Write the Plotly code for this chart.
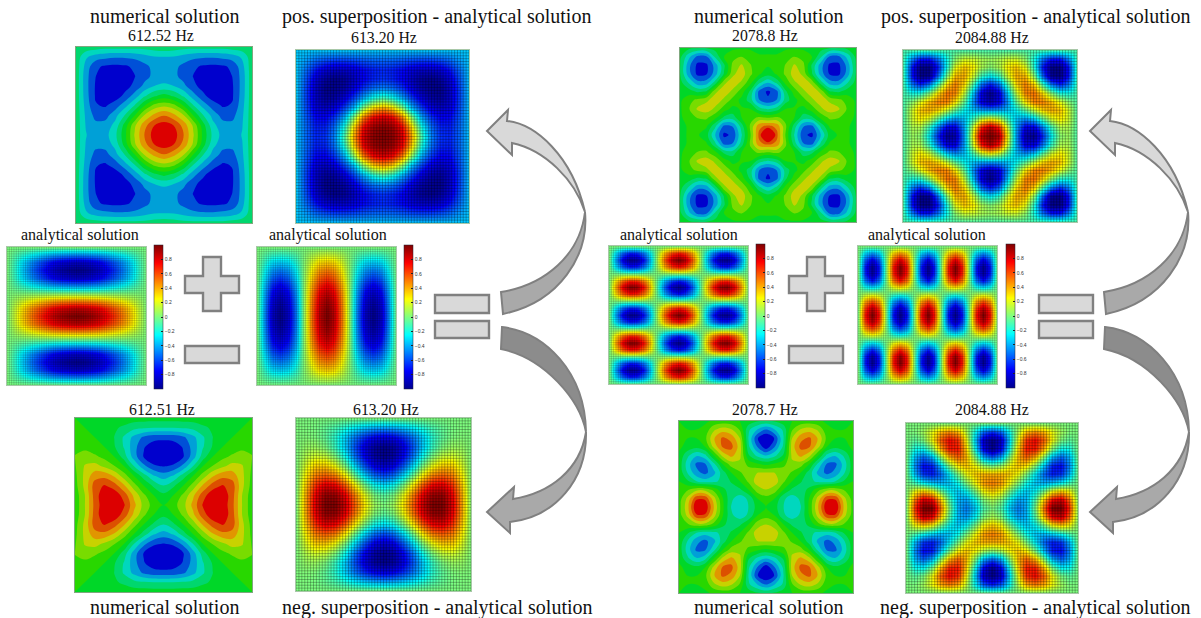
import numpy as np
import plotly.graph_objects as go

W, H = 1201, 618

# ---------- values: upper-left quarter of each field, row 0 = top edge ----------
ana_low_h = [
 [0,0,0,0,0,0,0,0,0,0],
 [0,-.09,-.17,-.25,-.32,-.39,-.44,-.47,-.49,-.5],
 [0,-.15,-.30,-.44,-.56,-.67,-.76,-.82,-.85,-.87],
 [0,-.17,-.34,-.5,-.64,-.77,-.87,-.94,-.98,-1],
 [0,-.15,-.30,-.44,-.56,-.67,-.76,-.82,-.85,-.87],
 [0,-.09,-.17,-.25,-.32,-.39,-.44,-.47,-.49,-.5],
 [0,0,0,0,0,0,0,0,0,0],
 [0,.09,.17,.25,.32,.39,.44,.47,.49,.5],
 [0,.15,.30,.44,.56,.67,.76,.82,.85,.87],
 [0,.17,.34,.5,.64,.77,.87,.94,.98,1],
]
ana_low_v = [
 [0,0,0,0,0,0,0,0,0,0],
 [0,-.09,-.15,-.17,-.15,-.09,0,.09,.15,.17],
 [0,-.17,-.30,-.34,-.30,-.17,0,.17,.30,.34],
 [0,-.25,-.44,-.5,-.44,-.25,0,.25,.44,.5],
 [0,-.32,-.56,-.64,-.56,-.32,0,.32,.56,.64],
 [0,-.39,-.67,-.77,-.67,-.39,0,.39,.67,.77],
 [0,-.44,-.76,-.87,-.76,-.44,0,.44,.76,.87],
 [0,-.47,-.82,-.94,-.82,-.47,0,.47,.82,.94],
 [0,-.49,-.85,-.98,-.85,-.49,0,.49,.85,.98],
 [0,-.5,-.87,-1,-.87,-.5,0,.5,.87,1],
]
pos_low = [
 [-.35]*10,
 [-.35,-.45,-.54,-.60,-.63,-.63,-.61,-.58,-.55,-.55],
 [-.35,-.54,-.70,-.82,-.86,-.85,-.81,-.74,-.69,-.67],
 [-.35,-.60,-.82,-.95,-1,-.96,-.87,-.76,-.68,-.65],
 [-.35,-.63,-.86,-1,-1,-.94,-.81,-.65,-.53,-.49],
 [-.35,-.63,-.85,-.96,-.94,-.81,-.61,-.40,-.19,-.10],
 [-.35,-.61,-.81,-.87,-.81,-.61,-.35,.05,.34,.44],
 [-.35,-.58,-.74,-.76,-.65,-.40,.05,.50,.75,.82],
 [-.35,-.55,-.69,-.68,-.53,-.19,.34,.75,.93,.97],
 [-.35,-.55,-.67,-.65,-.49,-.10,.44,.82,.97,1],
]
neg_low = [
 [0]*10,
 [0,0,-.01,-.05,-.11,-.20,-.29,-.37,-.43,-.45],
 [0,.01,0,-.06,-.17,-.34,-.51,-.66,-.77,-.81],
 [0,.05,.06,0,-.14,-.35,-.58,-.80,-.95,-1],
 [0,.11,.17,.14,0,-.23,-.51,-.76,-.94,-1],
 [0,.20,.34,.35,.23,0,-.29,-.57,-.78,-.85],
 [0,.29,.51,.58,.51,.29,0,-.29,-.51,-.58],
 [0,.37,.66,.80,.76,.57,.29,0,-.22,-.29],
 [0,.43,.77,.95,.94,.78,.51,.22,0,-.07],
 [0,.45,.81,1,1,.85,.58,.29,.07,0],
]
num_pos_low = [
 [-.16,-.22,-.24,-.27,-.27,-.27,-.27,-.27,-.24,-.22],
 [-.22,-.47,-.58,-.62,-.64,-.64,-.62,-.56,-.51,-.5],
 [-.22,-.56,-.8,-.86,-.88,-.86,-.8,-.72,-.61,-.59],
 [-.22,-.6,-.83,-.92,-.95,-.92,-.84,-.73,-.62,-.6],
 [-.22,-.6,-.85,-.95,-.96,-.9,-.79,-.62,-.5,-.46],
 [-.22,-.59,-.85,-.95,-.92,-.79,-.59,-.36,-.19,-.1],
 [-.22,-.56,-.82,-.85,-.75,-.56,-.32,0,.23,.3],
 [-.22,-.53,-.72,-.73,-.56,-.32,0,.35,.55,.66],
 [-.22,-.51,-.62,-.6,-.45,-.1,.3,.6,.83,.92],
 [-.22,-.49,-.59,-.56,-.38,-.05,.35,.67,.92,1.1],
]
num_neg_low = [
 [0,-.02,-.03,-.05,-.06,-.07,-.08,-.08,-.08,-.08],
 [.02,0,-.04,-.08,-.14,-.2,-.28,-.31,-.33,-.33],
 [.1,.04,0,-.06,-.17,-.36,-.55,-.7,-.77,-.78],
 [.15,.12,.06,0,-.15,-.35,-.6,-.82,-.93,-.95],
 [.17,.25,.2,.12,0,-.25,-.58,-.85,-.97,-1],
 [.15,.35,.4,.3,.18,0,-.33,-.62,-.8,-.84],
 [.12,.38,.6,.62,.48,.25,0,-.25,-.48,-.58],
 [.1,.38,.75,.85,.75,.52,.24,0,-.2,-.33],
 [.06,.33,.74,.96,.95,.76,.46,.2,0,-.12],
 [.05,.33,.72,.95,1,.85,.55,.27,.1,0],
]
ana_high_h = [
 [0]*11,
 [0,-.32,-.57,-.70,-.67,-.50,-.22,.11,.42,.63,.71],
 [0,-.45,-.81,-.99,-.95,-.71,-.31,.16,.59,.89,1],
 [0,-.32,-.57,-.70,-.67,-.50,-.22,.11,.42,.63,.71],
 [0]*11,
 [0,.32,.57,.70,.67,.50,.22,-.11,-.42,-.63,-.71],
 [0,.45,.81,.99,.95,.71,.31,-.16,-.59,-.89,-1],
 [0,.32,.57,.70,.67,.50,.22,-.11,-.42,-.63,-.71],
 [0]*11,
 [0,-.32,-.57,-.70,-.67,-.50,-.22,.11,.42,.63,.71],
 [0,-.45,-.81,-.99,-.95,-.71,-.31,.16,.59,.89,1],
]
ana_high_v = [
 [0]*11,
 [0,-.32,-.45,-.32,0,.32,.45,.32,0,-.32,-.45],
 [0,-.57,-.81,-.57,0,.57,.81,.57,0,-.57,-.81],
 [0,-.70,-.99,-.70,0,.70,.99,.70,0,-.70,-.99],
 [0,-.67,-.95,-.67,0,.67,.95,.67,0,-.67,-.95],
 [0,-.50,-.71,-.50,0,.50,.71,.50,0,-.50,-.71],
 [0,-.22,-.31,-.22,0,.22,.31,.22,0,-.22,-.31],
 [0,.11,.16,.11,0,-.11,-.16,-.11,0,.11,.16],
 [0,.42,.59,.42,0,-.42,-.59,-.42,0,.42,.59],
 [0,.63,.89,.63,0,-.63,-.89,-.63,0,.63,.89],
 [0,.71,1,.71,0,-.71,-1,-.71,0,.71,1],
]
pos_high = [
 [-.1]*11,
 [-.1,-.50,-.73,-.73,-.52,-.21,.04,.17,.16,.09,.06],
 [-.1,-.73,-1,-1,-.69,-.19,.21,.35,.27,.10,.02],
 [-.1,-.73,-1,-.97,-.52,.02,.38,.40,.16,-.14,-.27],
 [-.1,-.52,-.69,-.52,-.1,.32,.49,.32,-.1,-.52,-.69],
 [-.1,-.21,-.19,.02,.32,.52,.48,.14,-.36,-.80,-.98],
 [-.1,.04,.21,.38,.49,.48,.28,-.06,-.47,-.79,-.91],
 [-.1,.17,.35,.40,.32,.14,-.06,-.24,-.36,-.42,-.44],
 [-.1,.16,.27,.16,-.1,-.36,-.47,-.36,-.1,.16,.27],
 [-.1,.09,.10,-.14,-.52,-.80,-.79,-.42,.16,.68,.89],
 [-.1,.06,.02,-.27,-.69,-.98,-.91,-.44,.27,.89,1],
]
neg_high = [
 [0]*11,
 [0,0,.07,.22,.39,.48,.39,.12,-.24,-.55,-.67],
 [0,-.07,0,.24,.55,.74,.65,.24,-.34,-.85,-1],
 [0,-.22,-.24,0,.39,.70,.70,.34,-.24,-.77,-.99],
 [0,-.39,-.55,-.39,0,.39,.55,.39,0,-.39,-.55],
 [0,-.48,-.74,-.70,-.39,0,.28,.35,.24,.08,0],
 [0,-.39,-.65,-.70,-.55,-.28,0,.22,.34,.39,.40],
 [0,-.12,-.24,-.34,-.39,-.35,-.22,0,.24,.43,.50],
 [0,.24,.34,.24,0,-.24,-.34,-.24,0,.24,.34],
 [0,.55,.85,.77,.39,-.08,-.39,-.43,-.24,0,.10],
 [0,.67,1,.99,.55,0,-.40,-.50,-.34,-.10,0],
]
num_pos_high = [
 [-.1,-.12,-.15,-.15,-.1,-.05,-.03,-.03,-.03,-.05,-.05],
 [-.12,-.45,-.72,-.7,-.3,0,.1,.17,.1,.02,.02],
 [-.15,-.62,-.88,-.87,-.6,-.2,.22,.36,.18,.03,.02],
 [-.15,-.6,-.88,-.85,-.58,-.15,.3,.42,.2,.02,-.1],
 [-.1,-.35,-.6,-.58,-.25,.3,.42,.3,.05,-.3,-.5],
 [-.05,-.08,-.2,-.15,.3,.42,.3,.08,-.2,-.72,-.87],
 [-.03,.1,.22,.3,.42,.3,.1,-.05,-.25,-.66,-.8],
 [-.03,.15,.36,.42,.3,.08,-.05,.02,0,-.25,-.35],
 [-.03,.08,.18,.2,.05,-.2,-.25,0,.1,.2,.15],
 [-.05,.02,.03,.02,-.3,-.72,-.66,-.25,.2,.62,.72],
 [-.05,.02,.02,-.1,-.5,-.87,-.8,-.35,.15,.72,1.4],
]
num_neg_high = [
 [0,-.02,-.05,-.03,.03,.06,.05,0,-.06,-.15,-.2],
 [.02,0,0,.05,.3,.42,.35,.15,-.3,-.5,-.67],
 [.05,0,0,.12,.48,.7,.62,.33,-.35,-.82,-1],
 [.03,-.05,-.12,0,.38,.68,.72,.42,-.3,-.67,-.95],
 [-.03,-.3,-.48,-.38,0,.38,.55,.38,-.15,-.38,-.5],
 [-.06,-.42,-.7,-.68,-.38,0,.25,.28,.12,.02,-.05],
 [-.05,-.35,-.62,-.72,-.55,-.25,0,.15,.25,.33,.34],
 [0,-.15,-.33,-.42,-.38,-.28,-.15,0,.2,.42,.45],
 [.06,.15,.28,.28,.12,-.12,-.25,-.2,0,.25,.33],
 [.08,.38,.8,.8,.4,.02,-.3,-.42,-.3,0,.1],
 [.1,.45,1,.98,.5,.05,-.34,-.45,-.33,-.1,0],
]

colorbar_ticks = [-.8, -.6, -.4, -.2, 0, .2, .4, .6, .8]
title_num = "numerical solution"
title_pos = "pos. superposition - analytical solution"
title_neg = "neg. superposition - analytical solution"
title_ana = "analytical solution"
freq_labels = ["612.52 Hz", "613.20 Hz", "612.51 Hz", "613.20 Hz",
               "2078.8 Hz", "2084.88 Hz", "2078.7 Hz", "2084.88 Hz"]

# ---------- styles ----------
JET = [[0, "rgb(0,0,143)"], [.125, "rgb(0,0,255)"], [.375, "rgb(0,255,255)"],
       [.625, "rgb(255,255,0)"], [.875, "rgb(255,0,0)"], [1, "rgb(128,0,0)"]]
BANDS = ["#0000cd", "#0050d7", "#00a0d7", "#00d7be", "#00d76e", "#00d728",
         "#28d700", "#78dc00", "#c8d200", "#e19600", "#dc5000", "#dc0000"]
BAND_SCALE = [[k / 11, c] for k, c in enumerate(BANDS)]
MESH_CELLS = 60
FONT = "Liberation Serif"


def mirror(q):
    a = np.array(q, dtype=float)
    a = np.hstack([a, a[:, -2::-1]])
    return np.vstack([a, a[-2::-1, :]])


fig = go.Figure()
axes = {}
panel_no = [0]


def add_axes(box, line):
    panel_no[0] += 1
    n = panel_no[0]
    x0, x1, y0, y1 = box
    suffix = "" if n == 1 else str(n)
    common = dict(showticklabels=False, ticks="", showgrid=False, zeroline=False,
                  showline=True, mirror=True, linecolor=line, linewidth=1)
    axes["xaxis" + suffix] = dict(domain=[x0 / W, x1 / W], range=[0, 1], anchor="y" + suffix, **common)
    axes["yaxis" + suffix] = dict(domain=[1 - y1 / H, 1 - y0 / H], range=[1, 0], anchor="x" + suffix, **common)
    return "x" + suffix, "y" + suffix


def add_numeric(q, box):
    xa, ya = add_axes(box, "#7fa87f")
    z = mirror(q)
    fig.add_trace(go.Contour(
        z=z, x=np.linspace(0, 1, z.shape[1]), y=np.linspace(0, 1, z.shape[0]), xaxis=xa, yaxis=ya,
        autocontour=False, contours=dict(start=-5 / 6, end=5 / 6, size=1 / 6, coloring="fill"),
        colorscale=BAND_SCALE, line=dict(width=0, smoothing=1), showscale=False, hoverinfo="skip"))


def add_analytic(q, box, bar=None, mesh_alpha=.45):
    xa, ya = add_axes(box, "#a8c8a8")
    z = mirror(q)
    extra = {}
    if bar is not None:
        bx, by0, by1 = bar
        extra = dict(showscale=True, colorbar=dict(
            x=bx / W, xanchor="left", xpad=0, ypad=0, y=1 - (by0 + by1) / 2 / H, yanchor="middle",
            len=(by1 - by0) / H, lenmode="fraction", thickness=9, outlinewidth=.5, outlinecolor="#223",
            tickmode="array", tickvals=colorbar_ticks, ticks="inside", ticklen=1.5, tickwidth=.5,
            tickcolor="#222", tickfont=dict(size=5, color="#333", family="Liberation Sans")))
    else:
        extra = dict(showscale=False)
    fig.add_trace(go.Heatmap(
        z=z, x=np.linspace(0, 1, z.shape[1]), y=np.linspace(0, 1, z.shape[0]), xaxis=xa, yaxis=ya,
        zmin=-1, zmax=1, zsmooth="best", colorscale=JET, hoverinfo="skip", **extra))
    ticks = np.linspace(0, 1, MESH_CELLS + 1)
    mx, my = [], []
    for t in ticks:
        mx += [t, t, None, 0, 1, None]
        my += [0, 1, None, t, t, None]
    fig.add_trace(go.Scatter(x=mx, y=my, xaxis=xa, yaxis=ya, mode="lines", hoverinfo="skip",
                             line=dict(color=f"rgba(0,0,0,{mesh_alpha})", width=.6), showlegend=False))


add_numeric(num_pos_low, (76, 252, 47, 223))
add_analytic(pos_low, (296, 469, 50, 223))
add_analytic(ana_low_h, (7, 146, 247, 385), (154, 245, 389), .28)
add_analytic(ana_low_v, (257, 396, 247, 385), (404, 245, 389), .28)
add_numeric(num_neg_low, (75, 252, 418, 592))
add_analytic(neg_low, (296, 471, 418, 591))
add_numeric(num_pos_high, (680, 856, 48, 222))
add_analytic(pos_high, (903, 1077, 50, 222))
add_analytic(ana_high_h, (609, 748, 246, 384), (756, 244, 388), .28)
add_analytic(ana_high_v, (858, 997, 246, 384), (1006, 244, 388), .28)
add_numeric(num_neg_high, (679, 853, 421, 593))
add_analytic(neg_high, (906, 1078, 423, 593))

# ---------- decorations, page pixels ----------
def px(x, y):
    return f"{x / W:.5f} {1 - y / H:.5f}"


def path(cmds):
    out = []
    for c, pts in cmds:
        if c == "L":
            out.extend("L " + px(*p) for p in pts)
        else:
            out.append(c + " " + " ".join(px(*p) for p in pts))
    return " ".join(out) + " Z"


shapes = []


def poly(cmds, fill, lw=2):
    shapes.append(dict(type="path", xref="paper", yref="paper", path=path(cmds), fillcolor=fill,
                       line=dict(color="#808080", width=lw), layer="above"))


def operators(dx):
    poly([("M", [(203 + dx, 257)]),
          ("L", [(221 + dx, 257), (221 + dx, 276), (239 + dx, 276), (239 + dx, 293), (221 + dx, 293),
                 (221 + dx, 311), (203 + dx, 311), (203 + dx, 293), (185 + dx, 293), (185 + dx, 276), (203 + dx, 276)])],
         "#d9d9d9", 2.4)
    poly([("M", [(185 + dx, 346)]), ("L", [(239 + dx, 346), (239 + dx, 363), (185 + dx, 363)])], "#d9d9d9", 2.4)


def equals(dx):
    poly([("M", [(435 + dx, 295)]), ("L", [(489 + dx, 295), (489 + dx, 313), (435 + dx, 313)])], "#d9d9d9", 2.4)
    poly([("M", [(435 + dx, 321)]), ("L", [(489 + dx, 321), (489 + dx, 338), (435 + dx, 338)])], "#d9d9d9", 2.4)


def arrows(dx):
    s = lambda *p: [(a + dx, b) for a, b in p]
    poly([("M", s((585, 212))), ("C", s((589, 255), (560, 302), (503, 314))), ("L", s((501, 292))),
          ("C", s((545, 285), (580, 255), (585, 212)))], "#a9a9a9")
    poly([("M", s((487, 131))), ("L", s((508, 110), (507, 121))), ("C", s((535, 124), (572, 155), (585, 212))),
          ("C", s((575, 180), (545, 150), (512, 143))), ("L", s((512, 155)))], "#d9d9d9")
    poly([("M", s((502, 327))), ("C", s((545, 332), (585, 372), (586, 432))),
          ("C", s((580, 400), (545, 358), (501, 349)))], "#8c8c8c")
    poly([("M", s((586, 432))), ("C", s((587, 480), (555, 517), (510, 522))), ("L", s((510, 533), (487, 512), (514, 487), (513, 499))),
          ("C", s((550, 493), (580, 470), (586, 432)))], "#a9a9a9")


for dx in (0, 604):
    operators(dx)
    equals(dx)
    arrows(dx - 1 if dx else 0)

notes = []


def note(text, x, y, size):
    notes.append(dict(text=text, x=x / W, y=1 - y / H, xref="paper", yref="paper", showarrow=False,
                      xanchor="center", yanchor="middle", font=dict(family=FONT, size=size, color="#111")))


for t, x, y in [(title_num, 164, 16), (title_pos, 436, 16), (title_num, 164, 607), (title_neg, 437, 607),
                (title_num, 768, 16), (title_pos, 1035, 16), (title_num, 768, 607), (title_neg, 1035, 607)]:
    note(t, x, y, 20)
for t, x, y in zip(freq_labels, [161, 384, 162, 386, 765, 992, 765, 992], [36, 37, 409, 409, 36, 37, 409, 409]):
    note(t, x, y, 15.8)
for x in (80, 328, 679, 927):
    note(title_ana, x, 235, 16)

fig.update_layout(width=W, height=H, margin=dict(l=0, r=0, t=0, b=0), paper_bgcolor="white",
                  plot_bgcolor="white", showlegend=False, shapes=shapes, annotations=notes, **axes)
fig.write_html("out.html", config=dict(displayModeBar=False),
               post_script="document.body.style.margin='0';document.body.style.overflow='hidden';")
